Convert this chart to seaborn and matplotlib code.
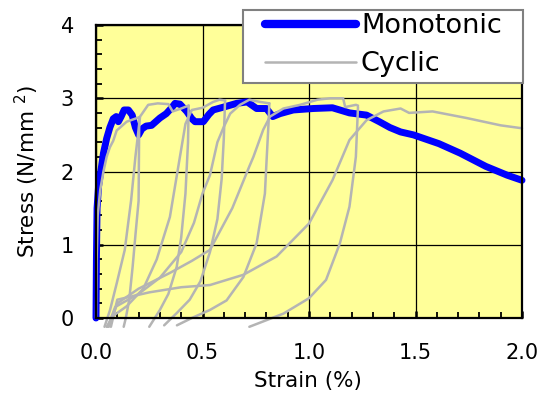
import matplotlib
matplotlib.use("Agg")
import matplotlib.pyplot as plt
import seaborn as sns
from matplotlib.ticker import MultipleLocator
from matplotlib.patches import Rectangle

# ---------------- data ----------------
mono_strain = [0, 0.002, 0.005, 0.012, 0.025, 0.035, 0.05, 0.065, 0.081, 0.095, 0.105, 0.118,
               0.132, 0.152, 0.17, 0.185, 0.2, 0.215, 0.235, 0.261, 0.30, 0.33, 0.355, 0.371,
               0.394, 0.426, 0.45, 0.465, 0.504, 0.53, 0.55, 0.60, 0.66, 0.71, 0.754, 0.80,
               0.83, 0.864, 0.926, 1.02, 1.11, 1.19, 1.27, 1.33, 1.38, 1.43, 1.49, 1.61, 1.71,
               1.83, 1.93, 2.0]
mono_stress = [0, 0.8, 1.5, 1.8, 2.05, 2.25, 2.45, 2.6, 2.72, 2.75, 2.68, 2.75,
               2.84, 2.84, 2.77, 2.6, 2.5, 2.58, 2.62, 2.63, 2.73, 2.79, 2.87, 2.93,
               2.92, 2.82, 2.72, 2.68, 2.68, 2.78, 2.84, 2.88, 2.93, 2.95, 2.86, 2.86,
               2.75, 2.79, 2.84, 2.86, 2.87, 2.8, 2.77, 2.68, 2.6, 2.54, 2.50, 2.38, 2.25,
               2.07, 1.95, 1.88]

# cyclic test: envelope / unloading / reloading branches
cyc_e0_x = [0, 0.003, 0.008, 0.02, 0.035, 0.05, 0.065, 0.081, 0.097, 0.113, 0.144, 0.183, 0.203]
cyc_e0_y = [0, 0.8, 1.4, 1.75, 2.0, 2.2, 2.33, 2.42, 2.56, 2.6, 2.68, 2.72, 2.74]

cyc_u1_x = [0.203, 0.2, 0.186, 0.172, 0.156, 0.14, 0.13]
cyc_u1_y = [2.74, 1.6, 1.16, 0.7, 0.25, 0.0, -0.12]

cyc_r2_x = [0.04, 0.066, 0.097, 0.135, 0.165, 0.185, 0.207, 0.245, 0.29, 0.34, 0.36, 0.40, 0.435]
cyc_r2_y = [-0.12, 0.11, 0.47, 0.93, 1.61, 2.2, 2.75, 2.91, 2.93, 2.92, 2.82, 2.86, 2.9]

cyc_u2_x = [0.435, 0.432, 0.42, 0.40, 0.379, 0.34, 0.30, 0.25]
cyc_u2_y = [2.9, 2.4, 1.7, 1.1, 0.7, 0.33, 0.11, -0.12]

cyc_r3_x = [0.05, 0.081, 0.144, 0.222, 0.285, 0.347, 0.394, 0.42, 0.45, 0.5, 0.55, 0.58, 0.606]
cyc_r3_y = [-0.12, 0.03, 0.16, 0.40, 0.8, 1.38, 2.2, 2.65, 2.84, 2.87, 2.95, 2.98, 2.97]

cyc_u3_x = [0.606, 0.6, 0.59, 0.57, 0.535, 0.49, 0.44, 0.38, 0.32]
cyc_u3_y = [2.97, 2.45, 1.9, 1.35, 0.9, 0.5, 0.25, 0.07, -0.1]

cyc_r4_x = [0.055, 0.09, 0.2, 0.3, 0.4, 0.46, 0.5, 0.535, 0.57, 0.60, 0.63, 0.676, 0.72, 0.77, 0.814]
cyc_r4_y = [-0.12, 0.15, 0.33, 0.55, 0.9, 1.3, 1.7, 1.95, 2.4, 2.61, 2.79, 2.91, 2.98, 2.95, 2.93]

cyc_u4_x = [0.814, 0.81, 0.801, 0.793, 0.754, 0.692, 0.613, 0.535, 0.45, 0.38]
cyc_u4_y = [2.93, 2.66, 2.16, 1.7, 1.02, 0.56, 0.24, 0.11, 0.0, -0.1]

cyc_r5_x = [0.06, 0.1, 0.2, 0.35, 0.45, 0.535, 0.64, 0.72, 0.739, 0.785, 0.817, 0.88, 0.958,
            1.04, 1.1, 1.16, 1.17, 1.22, 1.23]
cyc_r5_y = [-0.12, 0.2, 0.4, 0.62, 0.78, 0.93, 1.5, 2.07, 2.2, 2.57, 2.75, 2.86, 2.91,
            2.98, 3.0, 3.0, 2.88, 2.91, 2.9]

cyc_u5_x = [1.23, 1.22, 1.19, 1.145, 1.08, 1.0, 0.88, 0.72]
cyc_u5_y = [2.88, 2.2, 1.52, 1.02, 0.52, 0.27, 0.06, -0.12]

cyc_r6_x = [0.07, 0.1, 0.25, 0.4, 0.535, 0.692, 0.848, 1.0, 1.11, 1.19, 1.27, 1.35, 1.43,
            1.47, 1.58, 1.74, 1.90, 2.0]
cyc_r6_y = [-0.12, 0.25, 0.35, 0.42, 0.45, 0.59, 0.84, 1.29, 1.88, 2.43, 2.70, 2.82, 2.86,
            2.80, 2.82, 2.73, 2.63, 2.59]

cyc_branches = [(cyc_e0_x, cyc_e0_y), (cyc_u1_x, cyc_u1_y), (cyc_r2_x, cyc_r2_y),
                (cyc_u2_x, cyc_u2_y), (cyc_r3_x, cyc_r3_y), (cyc_u3_x, cyc_u3_y),
                (cyc_r4_x, cyc_r4_y), (cyc_u4_x, cyc_u4_y), (cyc_r5_x, cyc_r5_y),
                (cyc_u5_x, cyc_u5_y), (cyc_r6_x, cyc_r6_y)]

x_ticks = [0.0, 0.5, 1.0, 1.5, 2.0]
x_ticklabels = ["0.0", "0.5", "1.0", "1.5", "2.0"]
y_ticks = [0, 1, 2, 3, 4]
series_names = ["Monotonic", "Cyclic"]

# ---------------- style ----------------
sns.set_theme(style="white")
plt.rcParams["font.family"] = ["DejaVu Sans"]
plt.rcParams["mathtext.fontset"] = "dejavusans"

W, H = 540, 394
fig = plt.figure(figsize=(W / 100, H / 100), dpi=100)
ax = fig.add_axes([96 / W, 1 - 318 / H, 426 / W, 293 / H])
ax.set_facecolor("#FFFF99")

BLUE = "#0000FF"
GRAY = "#B4B4B4"

sns.lineplot(x=mono_strain, y=mono_stress, sort=False, estimator=None, ax=ax,
             color=BLUE, lw=5.0, solid_capstyle="round", solid_joinstyle="round",
             label=series_names[0], zorder=3)
ax.lines[-1].set_clip_on(False)

for i, (bx, by) in enumerate(cyc_branches):
    sns.lineplot(x=bx, y=by, sort=False, estimator=None, ax=ax, color=GRAY, lw=1.8,
                 label=series_names[1] if i == 0 else "_nolegend_", zorder=4)
    ax.lines[-1].set_clip_on(False)

ax.set_xlim(0, 2.0)
ax.set_ylim(0, 4)
ax.set_xticks(x_ticks)
ax.set_xticklabels(x_ticklabels)
ax.set_yticks(y_ticks)
ax.xaxis.set_minor_locator(MultipleLocator(0.1))
ax.yaxis.set_minor_locator(MultipleLocator(0.2))

ax.grid(True, which="major", color="black", lw=0.9, zorder=1)
ax.set_axisbelow(True)
ax.tick_params(axis="both", which="both", direction="in", bottom=True, left=True,
               top=False, right=False, colors="black")
ax.tick_params(axis="x", which="major", length=5, width=1.8, pad=18, labelsize=15)
ax.tick_params(axis="y", which="major", length=5, width=1.8, pad=16, labelsize=15)
ax.tick_params(axis="both", which="minor", length=4, width=1.3)
for s in ax.spines.values():
    s.set_color("black")
    s.set_linewidth(1.6)
    s.set_zorder(5)

ax.set_xlabel("Strain (%)", fontsize=15.5, color="black")
ax.set_ylabel("Stress (N/mm $^{2}$)", fontsize=15.5, color="black")
ax.xaxis.set_label_coords(0.497, -0.18)
ax.yaxis.set_label_coords(-0.13, 0.5)

# legend frame drawn as a rectangle in figure coordinates (inside the axes' artist list)
frame = Rectangle((243 / W, 1 - 83 / H), 280 / W, 73 / H, transform=fig.transFigure,
                  facecolor="white", edgecolor="#808080", lw=1.5, zorder=9, clip_on=False)
ax.add_artist(frame)

leg = ax.legend(loc="upper left", bbox_to_anchor=(265 / W, 1 - 13 / H),
                bbox_transform=fig.transFigure, borderaxespad=0, borderpad=0,
                fontsize=19.5, frameon=False, handlelength=3.35, handletextpad=0.19,
                labelspacing=0.45, labelcolor="black")
leg.set_zorder(10)
for h in leg.get_lines():
    h.set_solid_capstyle("round")
leg.get_lines()[0].set_linewidth(6.0)

fig.savefig("out.png", dpi=100)
